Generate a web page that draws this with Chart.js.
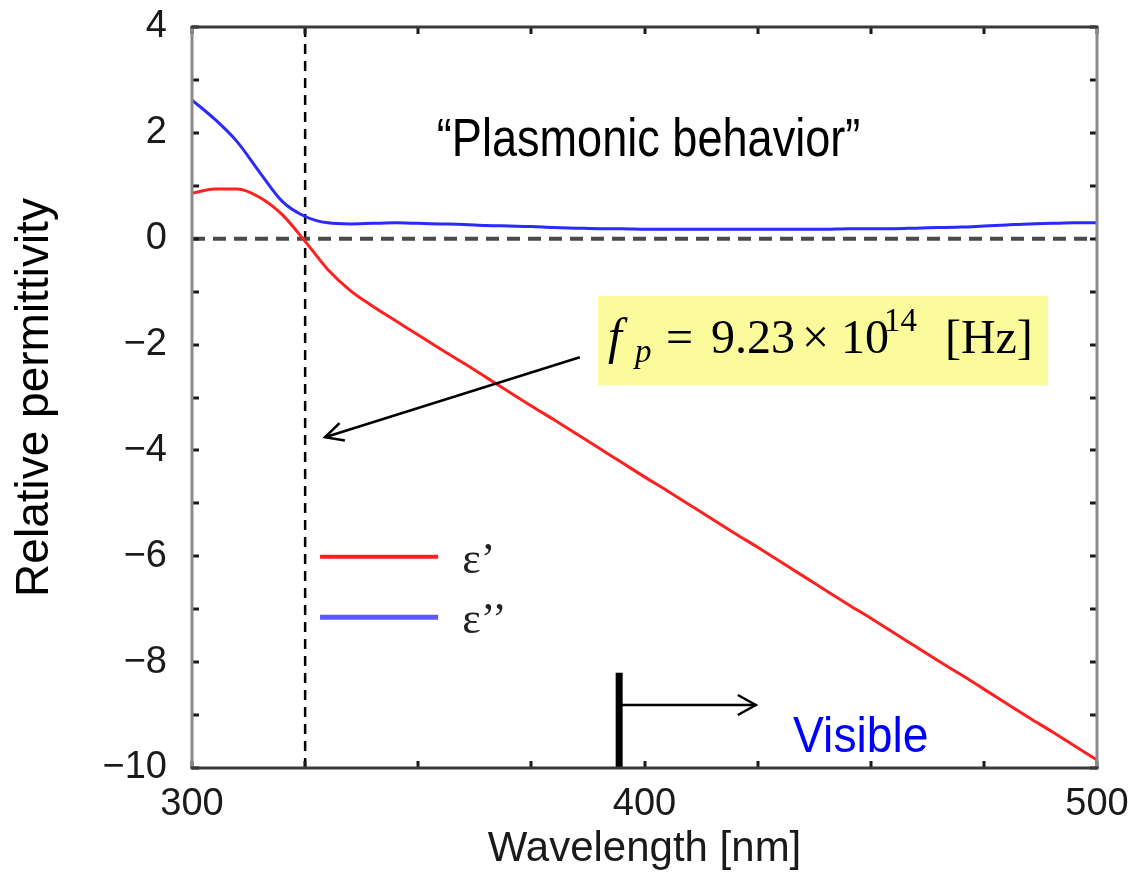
<!DOCTYPE html>
<html>
<head>
<meta charset="utf-8">
<script src="https://cdn.jsdelivr.net/npm/chart.js@4/dist/chart.umd.min.js"></script>
<style>
body { margin: 0; background: #fff; }
</style>
</head>
<body>
<canvas id="permChart" width="1133" height="880"></canvas>
<script>
"use strict";

// wavelength [nm]
var wavelength = [300, 305, 310, 315, 320, 325, 330, 335, 340, 345,
                  350, 355, 360, 365, 370, 375, 380, 385, 390, 395,
                  400, 405, 410, 415, 420, 425, 430, 435, 440, 445,
                  450, 455, 460, 465, 470, 475, 480, 485, 490, 495, 500];

// eps' (real part)
var epsReal = [0.86, 0.94, 0.94, 0.78, 0.45, -0.05, -0.58, -0.98, -1.28, -1.55,
               -1.82, -2.09, -2.35, -2.62, -2.89, -3.16, -3.42, -3.69, -3.96, -4.23,
               -4.50, -4.76, -5.03, -5.30, -5.57, -5.83, -6.10, -6.37, -6.64, -6.91,
               -7.17, -7.44, -7.71, -7.98, -8.24, -8.51, -8.78, -9.05, -9.31, -9.58, -9.85];

// eps'' (imaginary part)
var epsImag = [2.62, 2.26, 1.83, 1.25, 0.70, 0.42, 0.30, 0.28, 0.29, 0.30,
               0.29, 0.28, 0.27, 0.25, 0.24, 0.23, 0.21, 0.20, 0.19, 0.19,
               0.18, 0.18, 0.18, 0.18, 0.18, 0.18, 0.18, 0.18, 0.18, 0.19,
               0.19, 0.19, 0.20, 0.21, 0.22, 0.24, 0.26, 0.28, 0.29, 0.30, 0.30];

var seriesLabels = ['\u03b5\u2019', '\u03b5\u2019\u2019'];

// reference lines
var zeroLineX = [300, 500];
var zeroLineY = [0, 0];
var plasmaLineX = [325, 325];
var plasmaLineY = [-10, 4];
var visibleBarX = [394.4, 394.4];
var visibleBarY = [-10, -8.2];

// annotations (data coordinates)
var visibleArrowX = [394.4, 424.6];
var visibleArrowY = -8.81;
var fpArrowX = [385.7, 329.4];
var fpArrowY = [-2.24, -3.75];
var fpBoxX = [389.7, 489.2];
var fpBoxY = [-1.08, -2.77];
var plasmonicTextAt = [400.9, 1.57];
var visibleTextAt = [447.8, -9.70];
var legendLineX = [328.3, 354.4];
var legendLineY = [-6.01, -7.15];

function pairs(xs, ys) {
    var out = [];
    for (var i = 0; i < xs.length; i++) {
        out.push({ x: xs[i], y: ys[i] });
    }
    return out;
}

function arrowHead(ctx, x0, y0, x1, y1, len, half) {
    var ang = Math.atan2(y1 - y0, x1 - x0);
    var c = Math.cos(ang), s = Math.sin(ang);
    ctx.beginPath();
    ctx.moveTo(x1 - len * c - half * s, y1 - len * s + half * c);
    ctx.lineTo(x1, y1);
    ctx.lineTo(x1 - len * c + half * s, y1 - len * s - half * c);
    ctx.stroke();
}

function squeezedText(ctx, text, cx, baseY, sx) {
    ctx.save();
    ctx.translate(cx, baseY);
    ctx.scale(sx, 1);
    ctx.textAlign = 'center';
    ctx.textBaseline = 'alphabetic';
    ctx.fillText(text, 0, 0);
    ctx.restore();
}

// box below the curves
var notesUnder = {
    id: 'notesUnder',
    beforeDatasetsDraw: function (chart) {
        var ctx = chart.ctx, xs = chart.scales.x, ys = chart.scales.y;
        var bx0 = xs.getPixelForValue(fpBoxX[0]), bx1 = xs.getPixelForValue(fpBoxX[1]);
        var by0 = ys.getPixelForValue(fpBoxY[0]), by1 = ys.getPixelForValue(fpBoxY[1]);
        ctx.save();
        ctx.fillStyle = '#fbfb9c';
        ctx.fillRect(bx0, by0, bx1 - bx0, by1 - by0);
        ctx.restore();
    }
};

// frame, inner ticks, legend, labels
var notesOver = {
    id: 'notesOver',
    afterDatasetsDraw: function (chart) {
        var ctx = chart.ctx, xs = chart.scales.x, ys = chart.scales.y, a = chart.chartArea;
        ctx.save();

        // inner tick marks
        ctx.strokeStyle = '#1a1a1a';
        ctx.lineWidth = 3;
        xs.ticks.forEach(function (t) {
            var px = Math.round(xs.getPixelForValue(t.value));
            ctx.beginPath();
            ctx.moveTo(px, a.bottom); ctx.lineTo(px, a.bottom - 7);
            ctx.moveTo(px, a.top); ctx.lineTo(px, a.top + 7);
            ctx.stroke();
        });
        ys.ticks.forEach(function (t) {
            var py = Math.round(ys.getPixelForValue(t.value));
            ctx.beginPath();
            ctx.moveTo(a.left, py); ctx.lineTo(a.left + 7, py);
            ctx.moveTo(a.right, py); ctx.lineTo(a.right - 7, py);
            ctx.stroke();
        });

        // frame
        ctx.lineWidth = 3;
        ctx.strokeStyle = '#8a8a8a';
        ctx.beginPath();
        ctx.moveTo(a.left, a.top); ctx.lineTo(a.left, a.bottom);
        ctx.moveTo(a.right, a.top); ctx.lineTo(a.right, a.bottom);
        ctx.stroke();
        ctx.strokeStyle = '#3a3a3a';
        ctx.beginPath();
        ctx.moveTo(a.left - 1.5, a.top); ctx.lineTo(a.right + 1.5, a.top);
        ctx.moveTo(a.left - 1.5, a.bottom); ctx.lineTo(a.right + 1.5, a.bottom);
        ctx.stroke();

        // legend
        var lx0 = xs.getPixelForValue(legendLineX[0]), lx1 = xs.getPixelForValue(legendLineX[1]);
        ctx.font = '44px "Liberation Serif", "Times New Roman", serif';
        ctx.textAlign = 'left';
        ctx.textBaseline = 'alphabetic';
        ctx.fillStyle = '#222';
        [0, 1].forEach(function (i) {
            var ds = chart.data.datasets[i];
            var ly = ys.getPixelForValue(legendLineY[i]);
            ctx.strokeStyle = i === 0 ? ds.borderColor : '#5a5aff';
            ctx.lineWidth = i === 0 ? 4 : 5;
            ctx.beginPath();
            ctx.moveTo(lx0, ly); ctx.lineTo(lx1, ly);
            ctx.stroke();
            ctx.fillText(ds.label, lx1 + 24, ly + 16);
        });

        // f_p arrow
        ctx.strokeStyle = '#000';
        ctx.lineWidth = 2.5;
        var ax0 = xs.getPixelForValue(fpArrowX[0]), ay0 = ys.getPixelForValue(fpArrowY[0]);
        var ax1 = xs.getPixelForValue(fpArrowX[1]), ay1 = ys.getPixelForValue(fpArrowY[1]);
        ctx.beginPath();
        ctx.moveTo(ax0, ay0); ctx.lineTo(ax1, ay1);
        ctx.stroke();
        arrowHead(ctx, ax0, ay0, ax1, ay1, 18, 9);

        // visible arrow
        var vx0 = xs.getPixelForValue(visibleArrowX[0]), vx1 = xs.getPixelForValue(visibleArrowX[1]);
        var vy = ys.getPixelForValue(visibleArrowY);
        ctx.beginPath();
        ctx.moveTo(vx0, vy); ctx.lineTo(vx1, vy);
        ctx.stroke();
        arrowHead(ctx, vx0, vy, vx1, vy, 18, 10);

        // formula in the box
        var bx = xs.getPixelForValue(fpBoxX[0]), by = ys.getPixelForValue(fpBoxY[0]);
        var base = by + 57;
        ctx.fillStyle = '#000';
        ctx.textAlign = 'left';
        ctx.font = 'italic 50px "Liberation Serif", "Times New Roman", serif';
        ctx.fillText('f', bx + 10, base);
        ctx.font = 'italic 33px "Liberation Serif", "Times New Roman", serif';
        ctx.fillText('p', bx + 37, base + 9);
        ctx.font = '48px "Liberation Serif", "Times New Roman", serif';
        ctx.fillText('=', bx + 68, base);
        ctx.fillText('9.23', bx + 113, base);
        ctx.fillText('\u00d7', bx + 204, base);
        ctx.fillText('10', bx + 243, base);
        ctx.fillText('[Hz]', bx + 347, base);
        ctx.font = '33px "Liberation Serif", "Times New Roman", serif';
        ctx.fillText('14', bx + 286, base - 22);

        // plasmonic text
        ctx.fillStyle = '#000';
        ctx.font = '54px "Liberation Sans", Arial, sans-serif';
        squeezedText(ctx, '\u201cPlasmonic behavior\u201d',
            xs.getPixelForValue(plasmonicTextAt[0]), ys.getPixelForValue(plasmonicTextAt[1]), 0.835);

        // visible text
        ctx.fillStyle = '#0000ff';
        ctx.font = '50px "Liberation Sans", Arial, sans-serif';
        squeezedText(ctx, 'Visible',
            xs.getPixelForValue(visibleTextAt[0]), ys.getPixelForValue(visibleTextAt[1]), 0.925);

        ctx.restore();
    }
};

function minusFmt(v) {
    return v < 0 ? '\u2212' + Math.abs(v) : String(v);
}

var ctx = document.getElementById('permChart').getContext('2d');
var permChart = new Chart(ctx, {
    type: 'line',
    data: {
        datasets: [
            {
                label: seriesLabels[0],
                data: pairs(wavelength, epsReal),
                borderColor: '#ff2020',
                borderWidth: 3,
                pointRadius: 0,
                cubicInterpolationMode: 'monotone',
                fill: false
            }, {
                label: seriesLabels[1],
                data: pairs(wavelength, epsImag),
                borderColor: '#2a2aff',
                borderWidth: 3,
                pointRadius: 0,
                cubicInterpolationMode: 'monotone',
                fill: false
            }, {
                label: 'zero',
                data: pairs(zeroLineX, zeroLineY),
                borderColor: '#4a4a4a',
                borderWidth: 4,
                borderDash: [13, 8],
                pointRadius: 0,
                fill: false
            }, {
                label: 'plasma',
                data: pairs(plasmaLineX, plasmaLineY),
                borderColor: '#000',
                borderWidth: 2.5,
                borderDash: [10, 7],
                pointRadius: 0,
                fill: false
            }, {
                label: 'visible',
                data: pairs(visibleBarX, visibleBarY),
                borderColor: '#000',
                borderWidth: 7,
                borderCapStyle: 'butt',
                pointRadius: 0,
                fill: false
            }
        ]
    },
    options: {
        responsive: false,
        animation: false,
        devicePixelRatio: 1,
        layout: { padding: { top: 27, right: 36, left: 0, bottom: 0 } },
        plugins: {
            legend: { display: false },
            tooltip: { enabled: false }
        },
        scales: {
            x: {
                type: 'linear',
                min: 300,
                max: 500,
                grid: { drawOnChartArea: false, drawTicks: false },
                border: { display: false },
                ticks: {
                    stepSize: 25,
                    autoSkip: false,
                    maxRotation: 0,
                    padding: 14,
                    color: '#1a1a1a',
                    font: { family: '"Liberation Sans", Arial, sans-serif', size: 38 },
                    callback: function (v) { return v % 100 === 0 ? String(v) : ''; }
                },
                title: {
                    display: true,
                    text: 'Wavelength [nm]',
                    color: '#1a1a1a',
                    font: { family: '"Liberation Sans", Arial, sans-serif', size: 42 },
                    padding: { top: 0, bottom: 5 }
                },
                afterFit: function (s) { s.height = 112; s.paddingLeft = 0; s.paddingRight = 0; }
            },
            y: {
                type: 'linear',
                min: -10,
                max: 4,
                grid: { drawOnChartArea: false, drawTicks: false },
                border: { display: false },
                ticks: {
                    stepSize: 1,
                    autoSkip: false,
                    padding: 25,
                    color: '#1a1a1a',
                    font: { family: '"Liberation Sans", Arial, sans-serif', size: 38 },
                    callback: function (v) { return v % 2 === 0 ? minusFmt(v) : ''; }
                },
                title: {
                    display: true,
                    text: 'Relative permittivity',
                    color: '#000',
                    font: { family: '"Liberation Sans", Arial, sans-serif', size: 46 },
                    padding: { top: 8, bottom: 0 }
                },
                afterFit: function (s) { s.width = 192; s.paddingTop = 0; s.paddingBottom = 0; }
            }
        }
    },
    plugins: [notesUnder, notesOver]
});
</script>
</body>
</html>
